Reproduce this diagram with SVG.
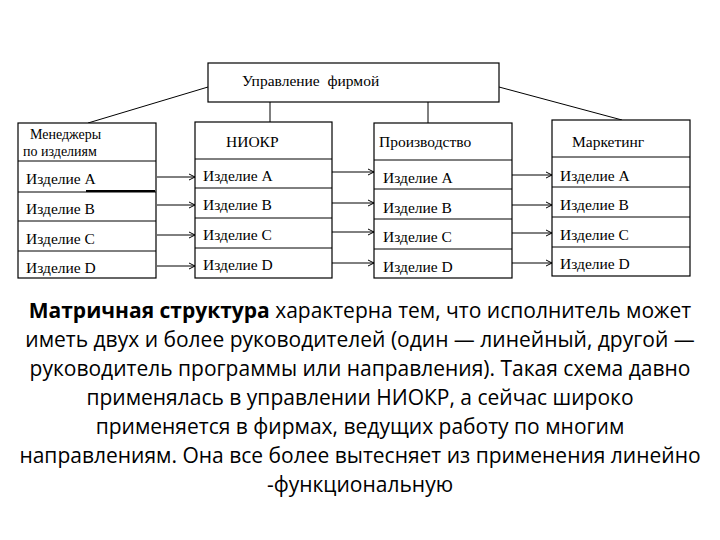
<svg xmlns="http://www.w3.org/2000/svg" width="720" height="540" viewBox="0 0 720 540">
<style>
.b{fill:#fff;stroke:#000;stroke-width:1.2}
.d{stroke:#000;stroke-width:1}
.t{font-family:"Liberation Serif",serif;font-size:15.5px;fill:#000}
.s{font-size:14px}
.p{font-family:"Open Sans","Liberation Sans",sans-serif;font-size:21px;fill:#000;text-anchor:middle}
.c{stroke:#000;stroke-width:1;fill:none}
</style>
<defs><marker id="a" markerWidth="8" markerHeight="8" refX="7" refY="4" orient="auto" markerUnits="userSpaceOnUse"><path d="M1,1 L7,4 L1,7" fill="none" stroke="#000"/></marker></defs>
<rect width="720" height="540" fill="#fff"/>
<g id="connectors">
<path class="c" d="M208,87 L88,123"/>
<path class="c" d="M270,102 V122"/>
<path class="c" d="M428,102 V123"/>
<path class="c" d="M499,87 L622,120"/>
<g marker-end="url(#a)">
<path class="c" d="M157,177 H195"/><path class="c" d="M157,205 H195"/><path class="c" d="M157,235 H195"/><path class="c" d="M157,266 H195"/>
<path class="c" d="M332,172 H374"/><path class="c" d="M332,203 H374"/><path class="c" d="M332,232 H374"/><path class="c" d="M332,263 H374"/>
<path class="c" d="M512,175 H552"/><path class="c" d="M512,205 H552"/><path class="c" d="M512,233 H552"/><path class="c" d="M512,263 H552"/>
</g>
</g>
<g id="top"><rect class="b" x="208" y="63" width="291" height="39"/><text class="t" x="242" y="86" xml:space="preserve">Управление  фирмой</text></g>
<g id="managers"><rect class="b" x="18" y="123" width="138" height="155"/>
<path class="d" d="M18,161H156M18,192H156M18,221H156M18,251H156"/><path stroke="#000" stroke-width="2" d="M86,191H155"/>
<text class="t s" x="30" y="139">Менеджеры</text><text class="t s" x="23" y="156">по изделиям</text>
<text class="t" x="26" y="184">Изделие A</text><text class="t" x="26" y="214">Изделие B</text><text class="t" x="26" y="244">Изделие C</text><text class="t" x="26" y="273">Изделие D</text></g>
<g id="niokr"><rect class="b" x="195" y="122" width="137" height="156"/>
<path class="d" d="M195,159H332M195,188H332M195,218H332M195,248H332"/>
<text class="t" x="226" y="147">НИОКР</text>
<text class="t" x="203" y="181">Изделие A</text><text class="t" x="203" y="210">Изделие B</text><text class="t" x="203" y="240">Изделие C</text><text class="t" x="203" y="270">Изделие D</text></g>
<g id="production"><rect class="b" x="374" y="123" width="138" height="155"/>
<path class="d" d="M374,160H512M374,189H512M374,219H512M374,249H512"/>
<text class="t" x="379" y="147">Производство</text>
<text class="t" x="383" y="183">Изделие A</text><text class="t" x="383" y="213">Изделие B</text><text class="t" x="383" y="242">Изделие C</text><text class="t" x="383" y="272">Изделие D</text></g>
<g id="marketing"><rect class="b" x="552" y="120" width="138" height="156"/>
<path class="d" d="M552,157H690M552,187H690M552,217H690M552,247H690"/>
<text class="t" x="572" y="147">Маркетинг</text>
<text class="t" x="560" y="181">Изделие A</text><text class="t" x="560" y="210">Изделие B</text><text class="t" x="560" y="240">Изделие C</text><text class="t" x="560" y="269">Изделие D</text></g>
<g id="paragraph">
<text class="p" x="360" y="318"><tspan font-weight="bold">Матричная структура</tspan> характерна тем, что исполнитель может</text>
<text class="p" x="360" y="347">иметь двух и более руководителей (один — линейный, другой —</text>
<text class="p" x="360" y="376">руководитель программы или направления). Такая схема давно</text>
<text class="p" x="360" y="405">применялась в управлении НИОКР, а сейчас широко</text>
<text class="p" x="360" y="434">применяется в фирмах, ведущих работу по многим</text>
<text class="p" x="360" y="463">направлениям. Она все более вытесняет из применения линейно</text>
<text class="p" x="360" y="492">-функциональную</text>
</g>
</svg>
